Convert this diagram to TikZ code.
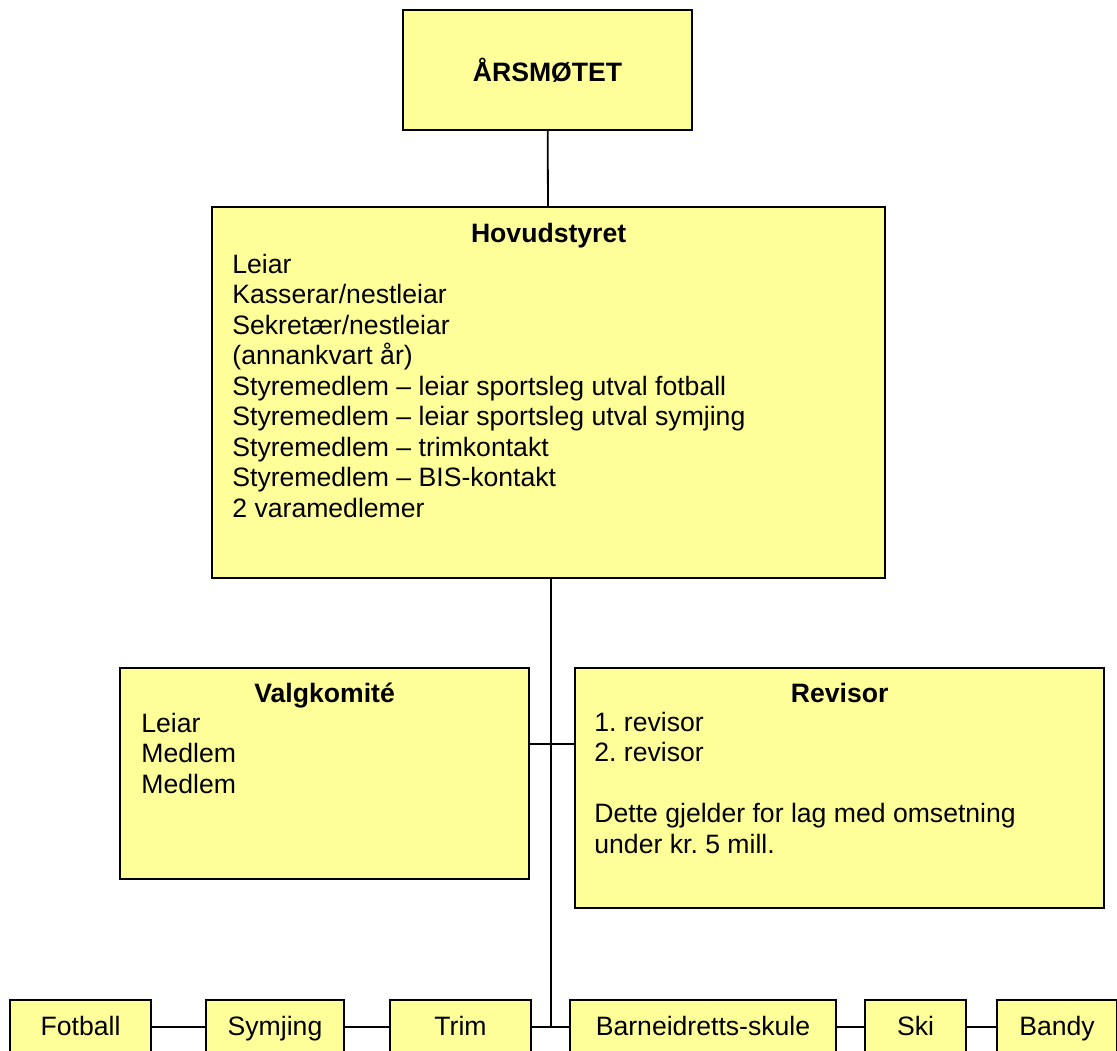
\documentclass[tikz,border=0pt]{standalone}
\usepackage{fontspec}
\setmainfont{Liberation Sans}
\usetikzlibrary{positioning}
\definecolor{boxfill}{RGB}{255,255,153}
\newcommand\orgfont{\fontsize{13.3pt}{15.25pt}\selectfont\frenchspacing}

\begin{document}
\begin{tikzpicture}[x=0.5pt, y=-0.5pt,
                    orgbox/.style={draw, fill=boxfill, line width=1.1pt, inner sep=0pt, font=\orgfont},
                    unit/.style={orgbox, minimum height=27pt, text height=10pt, text depth=2pt},
                    head/.style={inner sep=0pt, font=\orgfont\bfseries},
                    lines/.style={inner sep=0pt, align=left, font=\orgfont},
                    link/.style={line width=0.9pt}]
                    \useasboundingbox (0,0) rectangle (1117,1050);

                    \node[orgbox, minimum width=144.5pt, minimum height=60pt, font=\orgfont\bfseries] (aars) at (547.5,70) {ÅRSMØTET};

                    \node[orgbox, anchor=north west, minimum width=336.5pt, minimum height=185.5pt] (hovud) at (211,206) {};
                    \node[head, anchor=base] (hovudt) at ([yshift=-18pt]hovud.north) {Hovudstyret};
                    \node[lines, anchor=base west] (hovudl) at ([xshift=10.5pt, yshift=-155.5pt]hovud.north west) {Leiar\\Kasserar/nestleiar\\Sekretær/nestleiar\\(annankvart år)\\Styremedlem – leiar sportsleg utval fotball\\Styremedlem – leiar sportsleg utval symjing\\Styremedlem – trimkontakt\\Styremedlem – BIS-kontakt\\2 varamedlemer};

                    \node[orgbox, anchor=north west, minimum width=204.5pt, minimum height=105.5pt] (valg) at (119,667) {};
                    \node[head, anchor=base] (valgt) at ([yshift=-17.5pt]valg.north) {Valgkomité};
                    \node[lines, anchor=base west] (valgl) at ([xshift=11pt, yshift=-63pt]valg.north west) {Leiar\\Medlem\\Medlem};

                    \node[orgbox, anchor=north west, minimum width=264.5pt, minimum height=120pt] (rev) at (574,667) {};
                    \node[head, anchor=base] (revt) at ([yshift=-17.5pt]rev.north) {Revisor};
                    \node[lines, anchor=base west] (revl) at ([xshift=10pt, yshift=-93pt]rev.north west) {1. revisor\\2. revisor\\[15.25pt]Dette gjelder for lag med omsetning\\under kr. 5 mill.};

                    \node[unit, minimum width=70.5pt] (fot) at (80.5,1027) {Fotball};
                    \node[unit, minimum width=69pt] (sym) at (275,1027) {Symjing};
                    \node[unit, minimum width=70.5pt] (trim) at (460.5,1027) {Trim};
                    \node[unit, minimum width=133pt] (barne) at (703,1027) {Barneidretts-skule};
                    \node[unit, minimum width=50.5pt] (ski) at (915.5,1027) {Ski};
                    \node[unit, minimum width=60pt] (bandy) at (1057,1027) {Bandy};

                    \coordinate (mid) at (551,744);
                    \coordinate (foot) at (551,1027);

                    \draw[link] (aars) -- (hovud);
                    \draw[link] (hovud.south -| foot) -- (foot);
                    \draw[link] (valg.east |- mid) -- (rev.west |- mid);
                    \draw[link] (fot) -- (sym);
                    \draw[link] (sym) -- (trim);
                    \draw[link] (trim) -- (barne);
                    \draw[link] (barne) -- (ski);
                    \draw[link] (ski) -- (bandy);
                \end{tikzpicture}
\end{document}
